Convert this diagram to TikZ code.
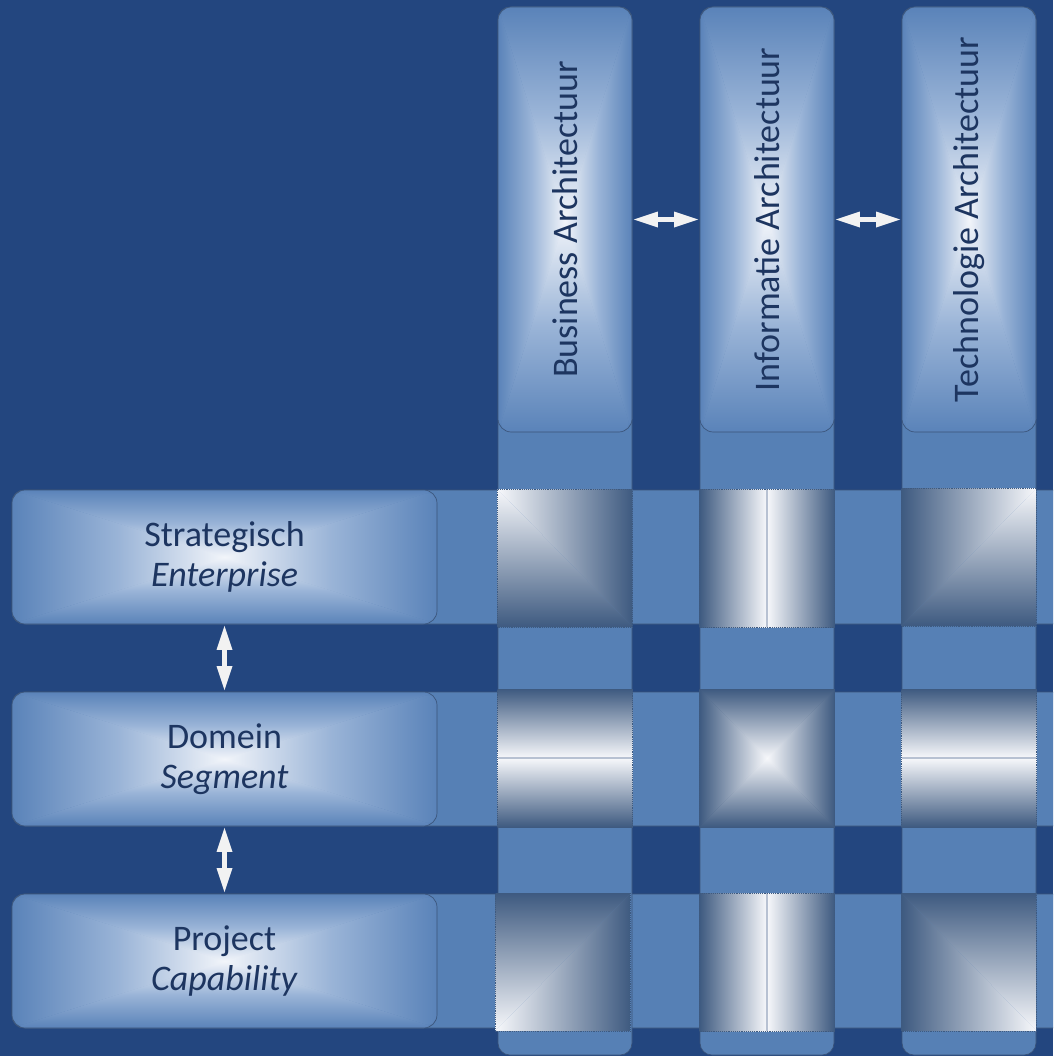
\documentclass[tikz,border=0pt]{standalone}
\usepackage{fontspec}
\setmainfont{Carlito}
\usetikzlibrary{arrows.meta}

\definecolor{bgblue}{HTML}{23467F}
\definecolor{stripeblue}{HTML}{5680B5}
\definecolor{boxedge}{HTML}{5A83B9}
\definecolor{boxmid}{HTML}{9AB4D7}
\definecolor{boxglow}{HTML}{F2F5FA}
\definecolor{boxline}{HTML}{3A5378}
\definecolor{sqdark}{HTML}{3E5A80}
\definecolor{sqlight}{HTML}{F7F8FB}
\definecolor{sqseam}{HTML}{B7C1D2}
\definecolor{textnavy}{HTML}{1D3560}
\definecolor{arrowwhite}{HTML}{F2F2F2}

\newlength\px
\setlength\px{0.75pt}

% corners of the current path picture
\newcommand{\ppcorners}{%
  \coordinate (nw) at (path picture bounding box.north west);
  \coordinate (ne) at (path picture bounding box.north east);
  \coordinate (sw) at (path picture bounding box.south west);
  \coordinate (se) at (path picture bounding box.south east);
  \coordinate (n) at (path picture bounding box.north);
  \coordinate (s) at (path picture bounding box.south);
  \coordinate (w) at (path picture bounding box.west);
  \coordinate (e) at (path picture bounding box.east);
  \coordinate (c) at (path picture bounding box.center);
}
% four triangles, edge colour #1 to centre colour #3
\newcommand{\glowfill}[3]{%
  \ppcorners
  \shade[bottom color=#3, top color=#1, middle color=#2] (nw) -- (ne) -- (c) -- cycle;
  \shade[bottom color=#1, top color=#3, middle color=#2] (sw) -- (se) -- (c) -- cycle;
  \shade[left color=#1, right color=#3, middle color=#2] (nw) -- (sw) -- (c) -- cycle;
  \shade[left color=#3, right color=#1, middle color=#2] (ne) -- (se) -- (c) -- cycle;
}

\begin{document}
\begin{tikzpicture}[x=\px,y=-\px,
    stripe/.style={fill=stripeblue, draw=boxline, line width=0.5pt, rounded corners=9pt},
    layerbox/.style={rectangle, rounded corners=10pt, draw=boxline, line width=0.5pt, inner sep=0pt,
        shade, inner color=boxglow, outer color=boxedge,
        font=\fontsize{27}{30}\selectfont, text=textnavy, align=center,
        path picture={\glowfill{boxedge}{boxmid}{boxglow}}},
    colbox/.style={layerbox, minimum width=134\px, minimum height=425\px},
    rowbox/.style={layerbox, minimum width=425\px, minimum height=134\px},
    cell/.style={rectangle, inner sep=0pt, minimum width=135\px, minimum height=138\px,
        draw=sqdark, densely dotted, line width=0.4pt},
    corner nw/.style={cell, path picture={\ppcorners
        \shade[left color=sqlight, right color=sqdark] (nw) -- (ne) -- (se) -- cycle;
        \shade[top color=sqlight, bottom color=sqdark] (nw) -- (sw) -- (se) -- cycle;}},
    corner ne/.style={cell, path picture={\ppcorners
        \shade[left color=sqdark, right color=sqlight] (nw) -- (ne) -- (sw) -- cycle;
        \shade[top color=sqlight, bottom color=sqdark] (ne) -- (se) -- (sw) -- cycle;}},
    corner sw/.style={cell, path picture={\ppcorners
        \shade[top color=sqdark, bottom color=sqlight] (nw) -- (ne) -- (sw) -- cycle;
        \shade[left color=sqlight, right color=sqdark] (sw) -- (se) -- (ne) -- cycle;}},
    corner se/.style={cell, path picture={\ppcorners
        \shade[top color=sqdark, bottom color=sqlight] (nw) -- (ne) -- (se) -- cycle;
        \shade[left color=sqdark, right color=sqlight] (nw) -- (sw) -- (se) -- cycle;}},
    band vert/.style={cell, path picture={\ppcorners
        \shade[left color=sqdark, right color=sqdark, middle color=sqlight] (nw) rectangle (se);
        \draw[solid, sqseam, line width=1pt] (n) -- (s);}},
    band horiz/.style={cell, path picture={\ppcorners
        \shade[top color=sqdark, bottom color=sqdark, middle color=sqlight] (nw) rectangle (se);
        \draw[solid, sqseam, line width=1pt] (w) -- (e);}},
    glow cell/.style={cell, shade, inner color=sqlight, outer color=sqdark,
        path picture={\glowfill{sqdark}{sqdark!50!sqlight}{sqlight}}},
    link/.style={draw=arrowwhite, line width=3.5pt,
        {Triangle[length=18pt,width=12pt,line width=0pt]}-{Triangle[length=18pt,width=12pt,line width=0pt]},
        shorten <=1.2pt, shorten >=1.2pt}
]
\useasboundingbox[fill=bgblue] (0,0) rectangle (1053,1056);

\begin{scope}
  \clip (0,0) rectangle (1053,1056);
  \foreach \y in {490,692,894}
    \draw[stripe] (12,\y) rectangle (1080,\y+134);
  \foreach \x in {498,700,902}
    \draw[stripe] (\x,7) rectangle (\x+134,1055);
\end{scope}

% columns
\node[colbox] (business) at (565,219.5) {\rotatebox{90}{Business Architectuur}};
\node[colbox] (informatie) at (767,219.5) {\rotatebox{90}{Informatie Architectuur}};
\node[colbox] (technologie) at (969,219.5) {\rotatebox{90}{Technologie Architectuur}};

% rows
\node[rowbox] (strategisch) at (224.5,557) {Strategisch\\\textit{Enterprise}};
\node[rowbox] (domein) at (224.5,759) {Domein\\\textit{Segment}};
\node[rowbox] (project) at (224.5,961) {Project\\\textit{Capability}};

% crossings
\node[corner nw] (sbus) at (565,558) {};
\node[band vert] (sinf) at (767,558) {};
\node[corner ne] (stec) at (969,557) {};
\node[band horiz] (dbus) at (565,758) {};
\node[glow cell] (dinf) at (767,758) {};
\node[band horiz] (dtec) at (969,758) {};
\node[corner sw] (pbus) at (563,962) {};
\node[band vert] (pinf) at (767,962) {};
\node[corner se] (ptec) at (969,962) {};

\draw[link] (business.east) -- (informatie.west);
\draw[link] (informatie.east) -- (technologie.west);
\draw[link] (strategisch.south) -- (domein.north);
\draw[link] (domein.south) -- (project.north);
\end{tikzpicture}
\end{document}
